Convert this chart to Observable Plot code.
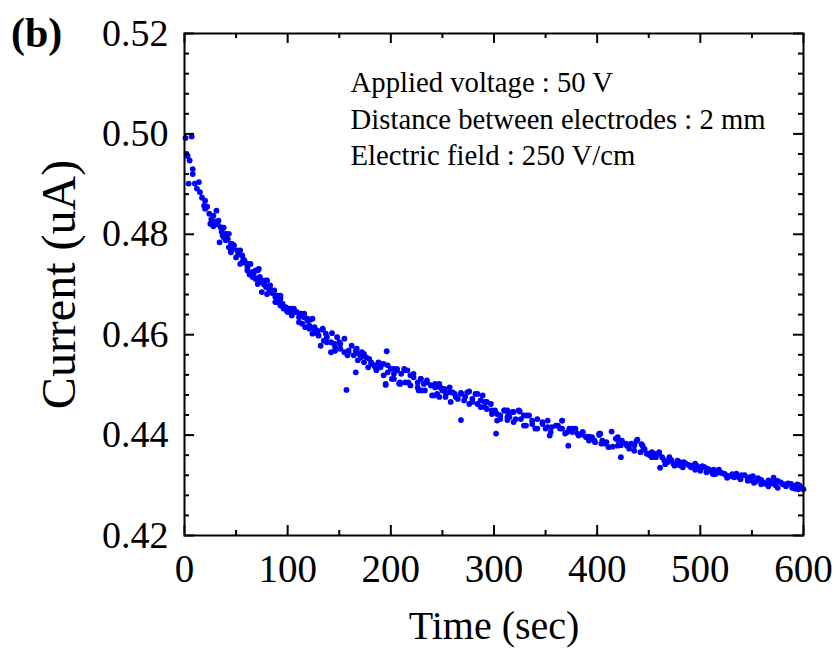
<!DOCTYPE html>
<html>
<head>
<meta charset="utf-8">
<script src="https://cdn.jsdelivr.net/npm/d3@7"></script>
<script src="https://cdn.jsdelivr.net/npm/@observablehq/plot@0.6"></script>
<style>
  html, body { margin: 0; padding: 0; background: #fff; }
  #wrap { position: relative; width: 836px; height: 652px; }
  #panel { position: absolute; left: 11px; top: 9px; font: bold 42px "Liberation Serif", serif; color: #000; }
</style>
</head>
<body>
<div id="wrap"><div id="panel">(b)</div></div>
<script>
// Time (sec) of each measured point
const time = [
  1,2,3,4,5,7,8,8,10,12,14,15,17,19,20,20,24,28,28,31,25,33,35,38,37,41,34,40,45,43,48,45,54,50,56,54,58,61,64,63,69,72,66,71,75,80,79,75,83,80,87,90,93,90,93,96,100,101,
  22,26,30,32,36,39,42,47,52,57,60,67,70,73,77,82,85,88,92,95,98,
  100,103,106,104,109,113,111,116,119,122,117,121,126,124,129,130,134,137,132,135,138,143,145,148,150,142,146,151,155,155,158,159,162,164,166,169,168,171,172,174,176,179,178,181,184,188,186,190,193,196,193,197,200,203,201,206,195,166,157,209,
  206,210,213,216,208,214,219,222,219,226,229,227,232,235,233,239,240,243,247,245,250,253,252,257,258,262,265,268,268,271,274,276,279,282,284,287,289,291,293,297,298,301,303,306,310,313,302,
  313,318,325,315,321,329,334,331,337,342,340,347,352,350,354,356,362,366,364,369,373,376,372,379,382,386,389,392,395,398,403,405,408,414,411,418,420,423,
  420,424,429,433,439,436,444,442,449,453,457,460,463,461,468,470,474,478,481,486,491,495,499,504,508,512,
  446,451,455,465,472,476,484,489,493,497,
  507,516,518,515,523,528,535,538,543,546,551,554,559,563,568,571,573,578,583,588,592,596,600,
  502,510,513,520,525,531,533,540,548,549,556,561,566,570,575,580,585,590,594,598,
  27,40,43,38,46,45,51,56,62,61,66,71,69,74,79,81,85,89,93,88,96,99,103,104,108,111,116,119,124,114,121,126,129,134,138,142,146,151,159,167,174,181,185,190,
  197,203,213,222,203,195,209,217,229,226,235,239,230,243,248,242,247,253,257,260,263,268,272,276,279,284,287,291,293,298,303,310,314,319,324,306,313,319,326,332,329,337,342,347,352,355,360,366,366,371,376,381,386,390,397,402,
  386,392,397,402,404,409,415,420,423,428,431,436,438,443,445,448,455,453,460,466,471,475,480,483,490,495,500,506,513,519,526,532,539,546,552,559,566,572,575,582,589,595
];
// Current (uA) of each measured point
const current = [
  .4992,.4960,.4956,.4901,.4947,.4995,.4930,.4920,.4901,.4891,.4904,.4884,.4873,.4857,.4867,.4851,.4841,.4837,.4816,.4847,.4821,.4827,.4814,.4813,.4798,.4798,.4784,.4788,.4781,.4774,.4778,.4764,.4768,.4754,.4758,.4741,.4748,.4734,.4741,.4720,.4728,.4731,.4715,.4701,.4708,.4708,.4695,.4685,.4698,.4681,.4688,.4678,.4678,.4665,.4658,.4652,.4645,.4652,
  .4855,.4830,.4825,.4820,.4805,.4800,.4790,.4772,.4760,.4750,.4742,.4722,.4712,.4715,.4700,.4690,.4683,.4675,.4668,.4662,.4655,
  .4652,.4648,.4652,.4638,.4645,.4642,.4625,.4635,.4628,.4630,.4615,.4612,.4615,.4602,.4608,.4598,.4610,.4602,.4578,.4588,.4585,.4603,.4582,.4595,.4585,.4565,.4568,.4572,.4592,.4565,.4559,.4565,.4578,.4559,.4568,.4562,.4549,.4555,.4565,.4545,.4555,.4552,.4535,.4545,.4539,.4545,.4529,.4535,.4542,.4567,.4519,.4525,.4532,.4522,.4512,.4529,.4500,.4525,.4490,.4502,
  .4532,.4522,.4532,.4529,.4503,.4505,.4519,.4515,.4499,.4505,.4512,.4489,.4502,.4505,.4489,.4499,.4479,.4495,.4502,.4482,.4489,.4476,.4492,.4485,.4466,.4482,.4472,.4484,.4430,.4469,.4485,.4462,.4472,.4482,.4462,.4456,.4479,.4466,.4452,.4462,.4442,.4449,.4429,.4439,.4449,.4436,.4403,
  .4449,.4446,.4447,.4436,.4432,.4439,.4439,.4419,.4429,.4432,.4413,.4422,.4429,.4413,.4399,.4416,.4419,.4429,.4413,.4403,.4413,.4406,.4379,.4413,.4399,.4406,.4396,.4389,.4396,.4386,.4403,.4389,.4383,.4407,.4376,.4393,.4379,.4356,
  .4396,.4389,.4379,.4383,.4391,.4369,.4379,.4366,.4363,.4366,.4356,.4366,.4356,.4335,.4346,.4356,.4343,.4349,.4339,.4343,.4336,.4343,.4333,.4336,.4329,.4323,
  .4372,.4360,.4362,.4350,.4350,.4340,.4346,.4340,.4339,.4338,
  .4333,.4326,.4331,.4323,.4323,.4318,.4323,.4315,.4320,.4311,.4318,.4308,.4311,.4303,.4306,.4315,.4300,.4306,.4298,.4303,.4293,.4300,.4292,
  .4338,.4330,.4331,.4325,.4320,.4322,.4316,.4320,.4316,.4310,.4314,.4306,.4310,.4304,.4309,.4302,.4304,.4299,.4302,.4295,
  .4821,.4801,.4801,.4794,.4781,.4768,.4768,.4744,.4740,.4728,.4725,.4728,.4711,.4705,.4708,.4695,.4688,.4678,.4672,.4665,.4655,.4648,.4652,.4642,.4645,.4635,.4642,.4632,.4632,.4622,.4618,.4612,.4602,.4612,.4595,.4585,.4575,.4582,.4568,.4572,.4562,.4542,.4535,.4542,
  .4539,.4532,.4529,.4522,.4512,.4502,.4505,.4505,.4512,.4495,.4509,.4499,.4489,.4502,.4495,.4479,.4476,.4485,.4495,.4485,.4476,.4482,.4476,.4487,.4466,.4482,.4469,.4456,.4466,.4449,.4442,.4449,.4442,.4446,.4449,.4432,.4430,.4426,.4432,.4439,.4419,.4422,.4413,.4426,.4416,.4406,.4419,.4429,.4413,.4406,.4413,.4403,.4406,.4396,.4389,.4403,
  .4401,.4397,.4390,.4400,.4383,.4386,.4377,.4390,.4380,.4383,.4373,.4380,.4388,.4382,.4373,.4363,.4363,.4356,.4363,.4342,.4349,.4339,.4346,.4336,.4339,.4331,.4329,.4326,.4322,.4326,.4315,.4317,.4312,.4309,.4305,.4302,.4298,.4305,.4295,.4302,.4295,.4292
];

const xMajor = [0, 100, 200, 300, 400, 500, 600];
const xMinor = [50, 150, 250, 350, 450, 550];
const yMajor = [0.42, 0.44, 0.46, 0.48, 0.50, 0.52];
const yMinor = [0.424, 0.428, 0.432, 0.436, 0.444, 0.448, 0.452, 0.456, 0.464, 0.468, 0.472, 0.476, 0.484, 0.488, 0.492, 0.496, 0.504, 0.508, 0.512, 0.516];
const notes = ["Applied voltage : 50 V", "Distance between electrodes : 2 mm", "Electric field : 250 V/cm"];
const noteY = [0.5102, 0.5029, 0.4957];

const points = time.map((t, i) => ({t, c: current[i]}));

const W = 836, H = 652;
const mL = 184, mR = 33, mT = 33, mB = 117;
const fw = W - mL - mR, fh = H - mT - mB;
const MAJ = 10, MIN = 5;

const chart = Plot.plot({
  width: W, height: H,
  marginLeft: mL, marginRight: mR, marginTop: mT, marginBottom: mB,
  style: {fontFamily: "'Liberation Serif', 'Times New Roman', serif", color: "#000", background: "#fff"},
  x: {domain: [0, 600]},
  y: {domain: [0.42, 0.52]},
  marks: [
    Plot.dot(points, {x: "t", y: "c", r: 2.9, fill: "#0000ff", stroke: "none"}),
    Plot.tickX(xMajor, {x: d => d, insetTop: fh - MAJ, stroke: "#000", strokeWidth: 2}),
    Plot.tickX(xMinor, {x: d => d, insetTop: fh - MIN, stroke: "#000", strokeWidth: 2}),
    Plot.tickX(xMajor, {x: d => d, insetBottom: fh - MAJ, stroke: "#000", strokeWidth: 2}),
    Plot.tickX(xMinor, {x: d => d, insetBottom: fh - MIN, stroke: "#000", strokeWidth: 2}),
    Plot.tickY(yMajor, {y: d => d, insetRight: fw - MAJ, stroke: "#000", strokeWidth: 2}),
    Plot.tickY(yMinor, {y: d => d, insetRight: fw - MIN, stroke: "#000", strokeWidth: 2}),
    Plot.tickY(yMajor, {y: d => d, insetLeft: fw - MAJ, stroke: "#000", strokeWidth: 2}),
    Plot.tickY(yMinor, {y: d => d, insetLeft: fw - MIN, stroke: "#000", strokeWidth: 2}),
    Plot.frame({stroke: "#000", strokeWidth: 2}),
    Plot.axisX({ticks: xMajor, tickSize: 0, tickPadding: 19, fontSize: 39, label: null, tickFormat: d3.format("d")}),
    Plot.axisY({ticks: yMajor, tickSize: 0, tickPadding: 16, fontSize: 38, label: null, tickFormat: d3.format(".2f")}),
    Plot.text(["Time (sec)"], {frameAnchor: "bottom", dy: 103, fontSize: 40, fill: "#000"}),
    Plot.text(["Current (uA)"], {frameAnchor: "left", textAnchor: "middle", dx: -125, rotate: -90, fontSize: 48, fill: "#000"}),
    Plot.text(notes, {x: 161, y: (d, i) => noteY[i], textAnchor: "start", fontSize: 28.7, fill: "#000"})
  ]
});
document.getElementById("wrap").prepend(chart);
chart.style.display = "block";
</script>
</body>
</html>
